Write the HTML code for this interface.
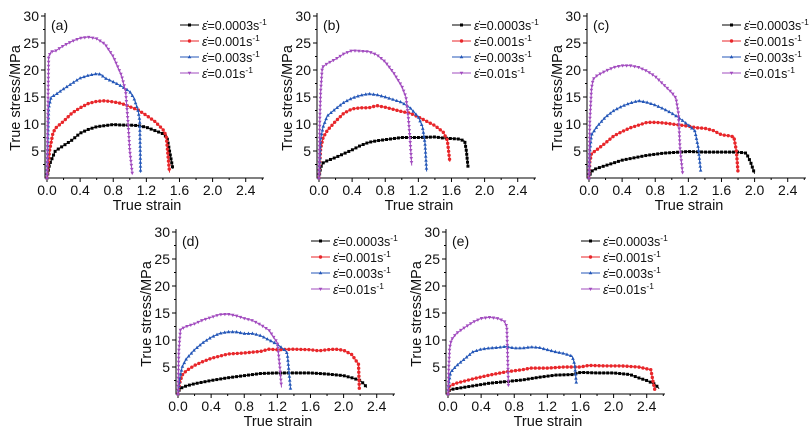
<!DOCTYPE html>
<html><head><meta charset="utf-8"><style>
html,body{margin:0;padding:0;background:#fff}
svg{display:block;font-family:"Liberation Sans",sans-serif}
</style></head><body>
<svg id="fig" width="810" height="436" viewBox="0 0 810 436" xmlns="http://www.w3.org/2000/svg"></svg>
<script>
const rateLabels = ["0.0003","0.001","0.003","0.01"];
const panelLabels = ["(a)","(b)","(c)","(d)","(e)"];
const xTicks = [0.0,0.4,0.8,1.2,1.6,2.0,2.4];
const yTicks = [5,10,15,20,25,30];
// panel a
const aBlackX=[0,0.03,0.1,0.2,0.3,0.4,0.5,0.6,0.7,0.8,0.9,1.0,1.1,1.2,1.3,1.4,1.45,1.48,1.52];
const aBlackY=[0,2.5,5,6,7,8.3,9,9.5,9.7,9.9,9.8,9.8,9.7,9.4,8.8,8.2,7.5,5,1.7];
const aRedX=[0,0.03,0.07,0.1,0.2,0.3,0.4,0.5,0.6,0.7,0.8,0.9,1.0,1.1,1.2,1.3,1.4,1.44,1.48];
const aRedY=[0,5,8.2,9.2,10.5,12,13,13.8,14.2,14.3,14.1,13.8,13.2,12.6,11.6,10.5,9,7.8,1];
const aBlueX=[0,0.02,0.05,0.1,0.2,0.3,0.4,0.5,0.6,0.65,0.7,0.8,0.9,1.0,1.05,1.1,1.12,1.13];
const aBlueY=[0,13,15,15.4,16.5,17.5,18.5,19,19.3,19.2,18.5,17.8,17,16,14.8,12.5,10.7,1];
const aPurX=[0,0.02,0.05,0.1,0.2,0.3,0.4,0.5,0.6,0.7,0.8,0.9,0.95,0.98,1.0,1.03];
const aPurY=[0,22.5,23.4,23.5,24.5,25.3,25.9,26.1,25.8,24.8,22.5,19,16,10,5,0.8];
// panel b
const bBlackX=[0,0.02,0.05,0.1,0.2,0.3,0.4,0.5,0.6,0.7,0.8,0.9,1.0,1.2,1.4,1.5,1.7,1.76,1.78,1.8];
const bBlackY=[0,2,2.8,3.2,3.8,4.5,5.2,6,6.6,6.9,7.1,7.3,7.5,7.5,7.6,7.4,7.2,6.8,5,2];
const bRedX=[0,0.02,0.05,0.1,0.2,0.3,0.4,0.5,0.6,0.7,0.8,0.9,1.0,1.1,1.2,1.3,1.4,1.5,1.55,1.58];
const bRedY=[0,5.5,7.5,8.8,10.5,12,12.8,13,13,13.4,13.1,12.7,12.3,12,11.3,10.5,9.7,8.5,7,3];
const bBlueX=[0,0.02,0.05,0.1,0.2,0.3,0.4,0.5,0.6,0.7,0.8,0.9,1.0,1.1,1.2,1.25,1.28,1.3];
const bBlueY=[0,7.2,9.5,11.5,12.8,14,14.8,15.3,15.6,15.4,15,14.5,14,13,11.3,9.5,6.5,1.2];
const bPurX=[0,0.01,0.02,0.04,0.1,0.2,0.3,0.4,0.5,0.6,0.7,0.8,0.9,1.0,1.05,1.08,1.1,1.12];
const bPurY=[0,11,16,20.5,21.2,22,23,23.6,23.5,23.4,22.8,21.5,19.5,17,15,11,7,2.3];
// panel c
const cBlackX=[0,0.02,0.05,0.1,0.2,0.3,0.4,0.5,0.6,0.7,0.8,0.9,1.0,1.2,1.4,1.6,1.8,1.9,1.95,2.0];
const cBlackY=[0,1,1.5,1.8,2.3,2.8,3.3,3.6,3.9,4.2,4.4,4.6,4.7,4.9,4.8,4.8,4.8,4.6,3,0.8];
const cRedX=[0,0.01,0.03,0.1,0.2,0.3,0.4,0.5,0.6,0.7,0.8,0.9,1.0,1.1,1.2,1.3,1.4,1.5,1.6,1.7,1.75,1.78,1.8];
const cRedY=[0,3,4.5,5.3,6.5,7.8,8.6,9.3,9.8,10.3,10.3,10.2,10,9.8,9.6,9.3,9.2,8.8,8,7.8,7.6,5,1];
const cBlueX=[0,0.01,0.03,0.1,0.2,0.3,0.4,0.5,0.6,0.7,0.8,0.9,1.0,1.1,1.2,1.28,1.32,1.35];
const cBlueY=[0,5,8,9.6,11.3,12.5,13.3,13.9,14.3,14,13.5,12.8,12,11,9.8,8.7,5.6,1.2];
const cPurX=[0,0.01,0.03,0.05,0.1,0.2,0.3,0.4,0.5,0.6,0.7,0.8,0.9,1.0,1.05,1.08,1.1,1.13];
const cPurY=[0,10.5,16.5,18.3,19,19.8,20.5,20.8,20.8,20.5,19.8,18.8,17.3,15.8,14.8,12,5.3,1];
// panel d
const dBlackX=[0,0.02,0.1,0.2,0.4,0.6,0.8,1.0,1.2,1.4,1.6,1.8,2.0,2.1,2.2,2.25,2.28];
const dBlackY=[0,1,1.5,1.9,2.5,3,3.4,3.8,3.9,3.9,3.9,3.7,3.4,3.0,2.5,1.8,1.2];
const dRedX=[0,0.02,0.05,0.1,0.2,0.3,0.4,0.6,0.8,1.0,1.1,1.2,1.4,1.6,1.7,1.8,1.9,2.0,2.1,2.18,2.19];
const dRedY=[0,2,3.5,4.3,5.3,6,6.6,7.4,7.6,7.9,8.3,8.2,8.3,8.2,8.0,8.2,8.3,8.1,7.3,5.5,1];
const dBlueX=[0,0.02,0.05,0.1,0.2,0.3,0.4,0.5,0.6,0.7,0.8,0.9,1.0,1.1,1.2,1.3,1.32,1.36];
const dBlueY=[0,2.8,5,6.5,8.2,9.5,10.5,11.2,11.5,11.5,11.2,11.2,10.8,10,9.2,8,7.5,0.8];
const dPurX=[0,0.01,0.03,0.1,0.2,0.3,0.4,0.5,0.6,0.7,0.8,0.9,1.0,1.1,1.2,1.23,1.25];
const dPurY=[0,8,12,12.5,13,13.7,14.2,14.7,14.8,14.5,14,13.6,12.8,11.8,9.5,5,1.2];
// panel e
const eBlackX=[0,0.02,0.1,0.3,0.5,0.7,0.9,1.1,1.3,1.5,1.6,1.8,2.0,2.2,2.3,2.4,2.5,2.55];
const eBlackY=[0,0.8,1,1.5,2,2.3,2.6,3.1,3.5,3.6,4,3.9,3.9,3.6,3,2.5,1.8,1];
const eRedX=[0,0.02,0.1,0.3,0.5,0.7,0.9,1.0,1.2,1.4,1.6,1.7,1.9,2.1,2.3,2.45,2.48,2.5];
const eRedY=[0,1.5,2,2.8,3.5,4.1,4.5,4.8,4.8,5,5,5.3,5.2,5.2,5,4.5,2,0.6];
const eBlueX=[0,0.01,0.03,0.1,0.2,0.3,0.4,0.5,0.6,0.7,0.8,0.9,1.0,1.1,1.2,1.3,1.4,1.5,1.53,1.55];
const eBlueY=[0,2,4,5.2,6.5,7.8,8.3,8.5,8.6,8.8,8.5,8.5,8.7,8.6,8.2,7.8,7.5,7,5.5,2];
const ePurX=[0,0.01,0.02,0.04,0.1,0.2,0.3,0.4,0.5,0.6,0.68,0.71,0.72,0.73];
const ePurY=[0,5,8.5,10,11.2,12.3,13.3,14,14.2,14,13.5,12.5,7,1.5];

const panelSeries=[
 [[aBlackX,aBlackY],[aRedX,aRedY],[aBlueX,aBlueY],[aPurX,aPurY]],
 [[bBlackX,bBlackY],[bRedX,bRedY],[bBlueX,bBlueY],[bPurX,bPurY]],
 [[cBlackX,cBlackY],[cRedX,cRedY],[cBlueX,cBlueY],[cPurX,cPurY]],
 [[dBlackX,dBlackY],[dRedX,dRedY],[dBlueX,dBlueY],[dPurX,dPurY]],
 [[eBlackX,eBlackY],[eRedX,eRedY],[eBlueX,eBlueY],[ePurX,ePurY]]
];
const origins=[[47,178],[319,178],[589,178],[178,394],[448,394]];
const colors=["#000000","#e8262a","#2457b8","#a24cbf"];
const markerTypes=["square","circle","up","down"];
const SX=82.8, SY=5.4;
const NS="http://www.w3.org/2000/svg";
const svg=document.getElementById('fig');
function mk(tag,attrs,parent){const e=document.createElementNS(NS,tag);for(const k in attrs)e.setAttribute(k,attrs[k]);(parent||svg).appendChild(e);return e;}
function marker(g,type,x,y,c){
  let e;
  if(type==="square")e=mk('rect',{x:x-1.5,y:y-1.5,width:3,height:3,fill:c},g);
  else if(type==="circle")e=mk('circle',{cx:x,cy:y,r:1.7,fill:c},g);
  else if(type==="up")e=mk('polygon',{points:`${x},${y-2} ${x-1.8},${y+1.3} ${x+1.8},${y+1.3}`,fill:c},g);
  else e=mk('polygon',{points:`${x},${y+2} ${x-1.8},${y-1.3} ${x+1.8},${y-1.3}`,fill:c},g);
  
  
}
panelSeries.forEach((series,pi)=>{
  const [x0,y0]=origins[pi];
  const xs=v=>x0+v*SX, ys=v=>y0-v*SY;
  const g=mk('g',{});
  
  
  const ax=mk('path',{d:`M${x0-2},${ys(30)-3} V${y0} H${xs(2.62)}`,stroke:'#000','stroke-width':1,fill:'none'},g);
  
  
  xTicks.forEach(t=>{
    mk('line',{x1:xs(t),x2:xs(t),y1:y0,y2:y0+4,stroke:'#000'},g);
    mk('line',{x1:xs(t+0.2),x2:xs(t+0.2),y1:y0,y2:y0+2,stroke:'#000'},g);
    const tx=mk('text',{x:xs(t),y:y0+17,'font-size':14,'text-anchor':'middle',fill:'#111'},g);
    tx.textContent=t.toFixed(1);
    
    
  });
  yTicks.forEach(t=>{
    mk('line',{x1:x0-6,x2:x0-2,y1:ys(t),y2:ys(t),stroke:'#000'},g);
    mk('line',{x1:x0-4,x2:x0-2,y1:ys(t-2.5),y2:ys(t-2.5),stroke:'#000'},g);
    const tx=mk('text',{x:x0-8,y:ys(t)+5,'font-size':14,'text-anchor':'end',fill:'#111'},g);
    tx.textContent=String(t);
    
    
  });
  const xt=mk('text',{x:x0+100,y:y0+32,'font-size':14.5,'text-anchor':'middle',fill:'#111'},g);
  xt.textContent='True strain';
  
  
  const yt=mk('text',{x:0,y:0,'font-size':14.5,'text-anchor':'middle',fill:'#111',transform:`translate(${x0-27},${y0-80}) rotate(-90)`},g);
  yt.textContent='True stress/MPa';
  
  
  const pl=mk('text',{x:x0+4,y:y0-148,'font-size':14,fill:'#111'},g);
  pl.textContent=panelLabels[pi];
  
  
  series.forEach((s,si)=>{
    const [X,Y]=s;const c=colors[si];
    const sg=mk('g',{},g);
    
    
    const pts=X.map((v,i)=>[xs(v),ys(Y[i])]);
    mk('polyline',{points:pts.map(p=>p.join(',')).join(' '),fill:'none',stroke:c,'stroke-width':1},sg);
    const step=4;
    let acc=0;marker(sg,markerTypes[si],pts[0][0],pts[0][1],c);
    for(let i=1;i<pts.length;i++){
      const dx=pts[i][0]-pts[i-1][0],dy=pts[i][1]-pts[i-1][1];const L=Math.hypot(dx,dy);
      let d=step-acc;
      while(d<=L){marker(sg,markerTypes[si],pts[i-1][0]+dx*d/L,pts[i-1][1]+dy*d/L,c);d+=step;}
      acc=L-(d-step);
    }
    const ly=y0-153+si*16;
    const lg=mk('g',{},g);
    
    
    mk('line',{x1:x0+133,x2:x0+152,y1:ly,y2:ly,stroke:c,'stroke-width':1},lg);
    marker(lg,markerTypes[si],x0+142.5,ly,c);
    const lt=mk('text',{x:x0+155,y:ly+5,'font-size':12.5,fill:'#111'},lg);
    lt.innerHTML=`<tspan font-style="italic">ε̇</tspan>=${rateLabels[si]}s<tspan dy="-5" font-size="8.5">-1</tspan>`;
  });
});
</script>
</body></html>
